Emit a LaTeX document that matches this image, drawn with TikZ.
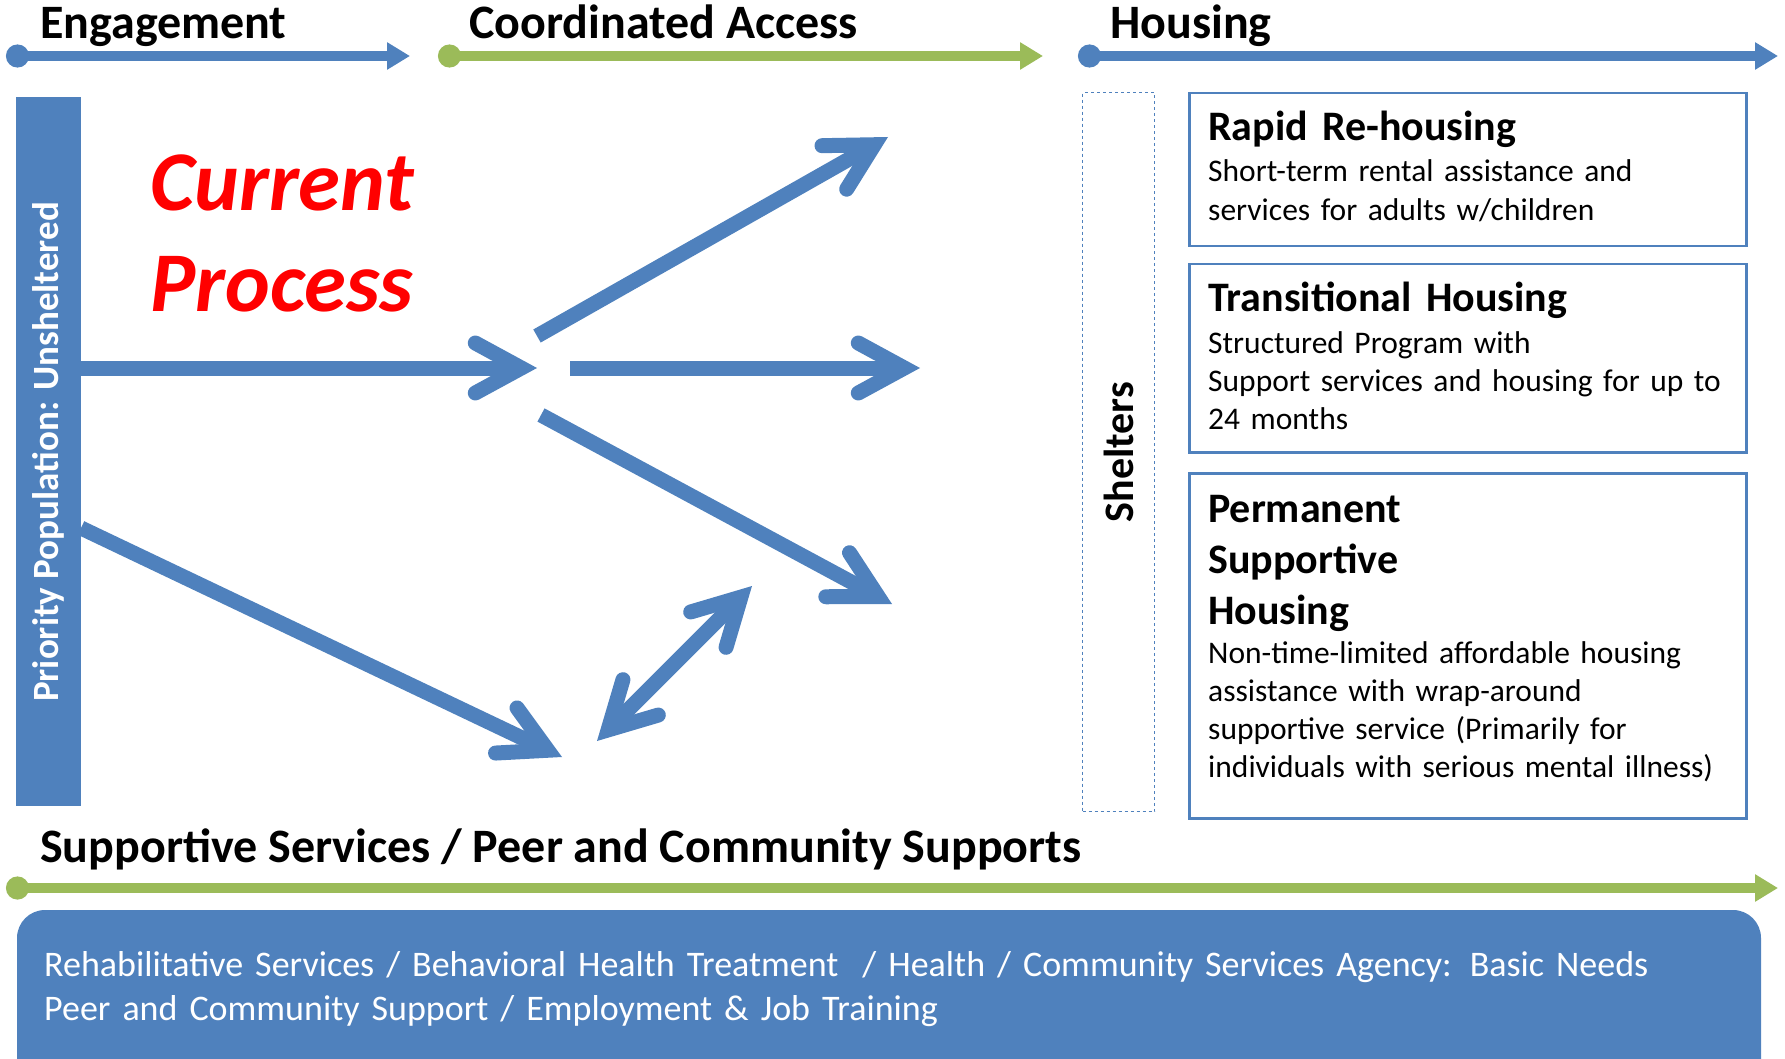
\documentclass[tikz,border=0pt]{standalone}
\usepackage{fontspec}
\setmainfont{Carlito}
\usetikzlibrary{arrows.meta}
\definecolor{slideblue}{HTML}{4F81BD}
\definecolor{slidegreen}{HTML}{9BBB59}
\tikzset{
  phase/.style = {line width=9.5pt, {Circle[length=23pt]}-{Triangle[length=23pt,width=26pt]}},
  flow/.style = {slideblue, line width=15pt, -{Straight Barb[length=46pt,width=50pt,line cap=round,line join=miter]}},
  headtxt/.style = {font=\bfseries\fontsize{48}{52}\selectfont, anchor=base west, inner sep=0pt},
  titletxt/.style = {font=\bfseries\fontsize{42}{51}\selectfont, anchor=base west, inner sep=0pt, text width=520pt, align=left},
  bodytxt/.style = {font=\fontsize{31.5}{38.3}\selectfont, anchor=base west, inner sep=0pt, text width=530pt, align=left},
  housebox/.style = {draw=slideblue, line width=2.5pt, anchor=north west, minimum width=557pt},
  shelterbox/.style = {draw=slideblue, dashed, line width=1.2pt, anchor=north west, minimum width=72pt, minimum height=719pt}
}
\begin{document}
\begin{tikzpicture}[x=1pt, y=-1pt]
  \useasboundingbox (0,0) rectangle (1785,1059);

  % stage headings along the top
  \node[headtxt] (engage) at (40,39) {Engagement};
  \node[headtxt] (access) at (469,39) {Coordinated Access};
  \node[headtxt] (housing) at (1110,39) {Housing};
  \coordinate (engS) at (6,56);    \coordinate (engE) at (410,56);
  \coordinate (accS) at (438,56);  \coordinate (accE) at (1043,56);
  \coordinate (houS) at (1078,56); \coordinate (houE) at (1778,56);
  \draw[phase, slideblue] (engS) -- (engE);
  \draw[phase, slidegreen] (accS) -- (accE);
  \draw[phase, slideblue] (houS) -- (houE);

  % left bar
  \fill[slideblue] (16,97) rectangle (81,806);
  \node[rotate=90, white, font=\bfseries\fontsize{37}{40}\selectfont] (prio) at (48.5,452) {Priority Population: Unsheltered};

  \node[anchor=base west, red, inner sep=0pt, font=\bfseries\itshape\fontsize{85}{90}\selectfont] (cur) at (150,211) {Current};
  \node[anchor=base west, red, inner sep=0pt, font=\bfseries\itshape\fontsize{85}{90}\selectfont] (proc) at (150,311) {Process};

  % arrows
  \coordinate (a1s) at (81,368);  \coordinate (a1e) at (537,368);
  \coordinate (a2s) at (537,336); \coordinate (a2e) at (888,137);
  \coordinate (a3s) at (570,368); \coordinate (a3e) at (920,368);
  \coordinate (a4s) at (541,415); \coordinate (a4e) at (892,604);
  \coordinate (a5s) at (81,528);  \coordinate (a5e) at (562,757);
  \coordinate (a6s) at (597,741); \coordinate (a6e) at (752,586);
  \draw[flow] (a1s) -- (a1e);
  \draw[flow] (a2s) -- (a2e);
  \draw[flow] (a3s) -- (a3e);
  \draw[flow] (a4s) -- (a4e);
  \draw[flow] (a5s) -- (a5e);
  \draw[flow, {Straight Barb[length=46pt,width=50pt,line cap=round,line join=miter]}-{Straight Barb[length=46pt,width=50pt,line cap=round,line join=miter]}] (a6s) -- (a6e);

  % shelters
  \node[shelterbox] (shelt) at (1082,92) {};
  \node[rotate=90, font=\bfseries\fontsize{42}{44}\selectfont] (sheltT) at (shelt.center) {Shelters};

  % housing options
  \node[housebox, minimum height=153pt] (rrh) at (1188,92) {};
  \node[titletxt] (rrhT) at (1208,141) {Rapid Re-housing};
  \node[bodytxt] (rrhB) at (1208,182) {Short-term rental assistance and\\services for adults w/children};

  \node[housebox, minimum height=188pt] (th) at (1188,263) {};
  \node[titletxt] (thT) at (1208,312) {Transitional Housing};
  \node[bodytxt] (thB) at (1208,353) {Structured Program with\\Support services and housing for up to\\24 months};

  \node[housebox, minimum height=345pt] (psh) at (1188,472) {};
  \node[titletxt] (pshT) at (1208,522) {Permanent\\Supportive\\Housing};
  \node[bodytxt] (pshB) at (1208,663) {Non-time-limited affordable housing\\assistance with wrap-around\\supportive service (Primarily for\\individuals with serious mental illness)};

  % supports
  \node[headtxt] (supp) at (40,862) {Supportive Services / Peer and Community Supports};
  \coordinate (supS) at (6,888); \coordinate (supE) at (1778,888);
  \draw[phase, slidegreen] (supS) -- (supE);
  \fill[slideblue, rounded corners=28pt] (17,910) rectangle (1761,1100);
  \node[bodytxt, white, text width=1700pt, font=\fontsize{36}{40}\selectfont] (svc1) at (44,976) {Rehabilitative Services / Behavioral Health Treatment\ \ / Health / Community Services Agency: Basic Needs};
  \node[bodytxt, white, text width=1700pt, font=\fontsize{36}{40}\selectfont] (svc2) at (44,1020) {Peer and Community Support / Employment \& Job Training};
\end{tikzpicture}
\end{document}
